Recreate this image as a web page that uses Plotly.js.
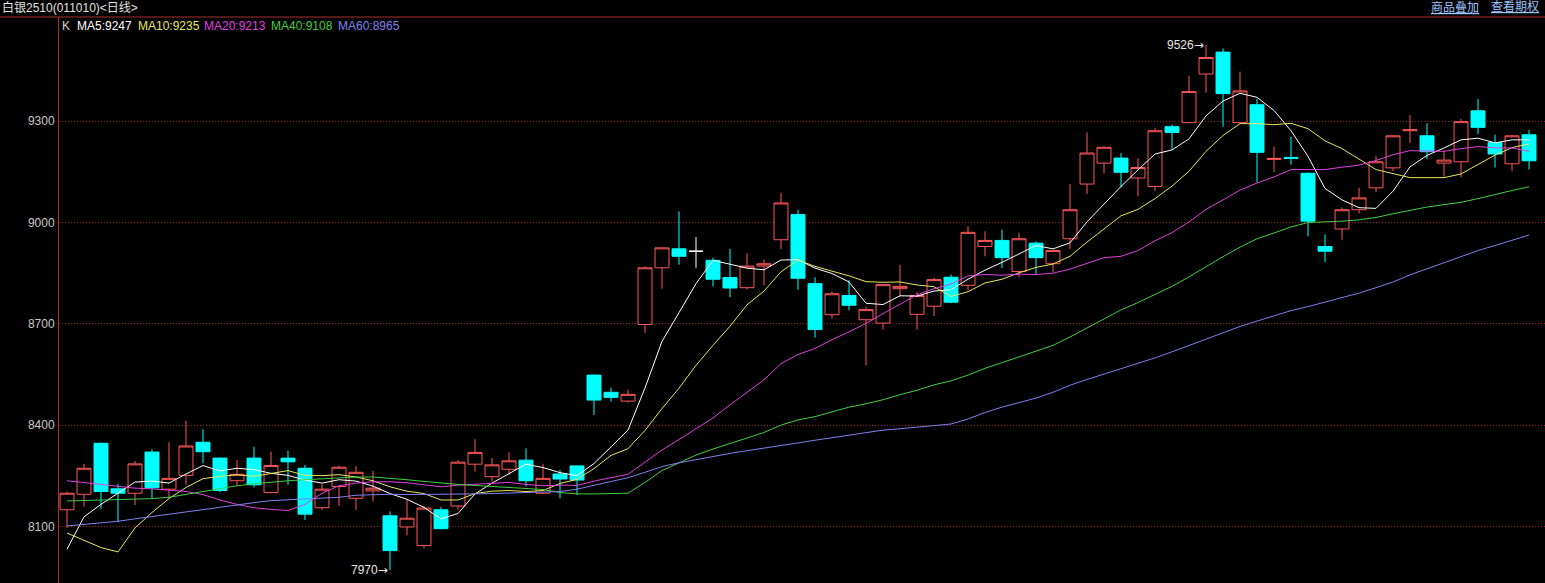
<!DOCTYPE html>
<html>
<head>
<meta charset="utf-8">
<script src="https://cdn.plot.ly/plotly-3.0.1.min.js"></script>
<style>
html,body{margin:0;padding:0;background:#000;overflow:hidden;}
#chart{width:1545px;height:583px;}
</style>
</head>
<body>
<div id="chart"></div>
<script>
// ---- data (daily candles, 87 sessions) ----
const openP  = [8149,8195,8346,8211,8198,8320,8210,8251,8349,8302,8235,8302,8200,8302,8272,8155,8218,8183,8205,8131,8098,8043,8149,8160,8284,8247,8269,8296,8198,8255,8279,8548,8497,8471,8698,8866,8922,8915,8888,8837,8807,8871,8949,9024,8819,8727,8784,8712,8702,8804,8728,8752,8838,8814,8929,8947,8855,8939,8878,8952,9114,9176,9191,9132,9107,9284,9296,9440,9505,9296,9349,9187,9193,9146,8929,8981,9038,9103,9162,9272,9257,9176,9180,9331,9237,9174,9260];
const highP  = [8203,8285,8348,8226,8294,8328,8349,8413,8388,8304,8296,8336,8321,8323,8282,8226,8280,8279,8264,8144,8178,8160,8157,8296,8358,8302,8319,8331,8285,8267,8281,8550,8511,8505,8870,8926,9033,8957,8896,8922,8909,8891,9088,9038,8838,8796,8829,8750,8818,8875,8794,8837,8846,8989,8974,8979,8970,8944,8919,9114,9267,9225,9206,9190,9280,9290,9435,9526,9516,9447,9366,9225,9254,9148,8965,9045,9103,9198,9259,9318,9294,9213,9307,9366,9260,9259,9274];
const lowP   = [8095,8158,8151,8112,8163,8183,8183,8223,8287,8201,8220,8215,8198,8223,8119,8149,8160,8149,8173,7970,8073,8035,8091,8149,8262,8232,8252,8218,8196,8183,8193,8430,8469,8467,8673,8804,8875,8866,8811,8779,8802,8814,8922,8801,8659,8715,8740,8577,8683,8781,8683,8723,8761,8799,8900,8865,8838,8845,8853,8922,9085,9146,9104,9078,9093,9215,9294,9385,9284,9294,9119,9149,9171,8959,8883,8949,9027,9090,9152,9236,9188,9136,9134,9262,9163,9152,9157];
const closeP = [8198,8272,8203,8198,8285,8214,8242,8338,8321,8206,8254,8223,8280,8291,8136,8210,8275,8260,8213,8028,8124,8154,8093,8290,8319,8282,8294,8235,8242,8240,8237,8474,8482,8491,8866,8925,8900,8915,8832,8806,8871,8878,9058,8835,8683,8789,8755,8742,8816,8811,8784,8831,8764,8971,8947,8896,8952,8896,8917,9038,9206,9223,9149,9163,9272,9267,9388,9489,9382,9390,9208,9190,9190,9004,8915,9038,9073,9180,9257,9275,9210,9185,9299,9282,9203,9257,9183];

const ma5  = [8032,8128,8165,8198,8231,8234,8228,8255,8280,8264,8272,8268,8257,8251,8237,8228,8238,8234,8219,8197,8180,8156,8122,8138,8196,8228,8256,8284,8274,8259,8250,8286,8335,8385,8510,8648,8733,8819,8888,8876,8865,8860,8889,8890,8865,8849,8824,8761,8757,8783,8782,8797,8801,8832,8859,8882,8906,8932,8922,8940,9002,9056,9107,9156,9203,9215,9248,9316,9360,9383,9371,9332,9272,9196,9101,9067,9044,9042,9093,9165,9199,9221,9245,9250,9236,9245,9245];
const ma10 = [8080,8058,8037,8024,8095,8141,8182,8215,8241,8248,8253,8248,8256,8265,8251,8250,8253,8246,8235,8217,8204,8197,8178,8178,8197,8204,8206,8203,8206,8227,8239,8271,8310,8330,8384,8449,8509,8577,8636,8693,8756,8797,8854,8889,8870,8857,8842,8825,8823,8824,8815,8810,8781,8795,8821,8832,8851,8867,8877,8900,8942,8981,9020,9039,9071,9108,9152,9211,9258,9293,9293,9290,9294,9278,9242,9219,9188,9157,9145,9133,9133,9133,9144,9171,9200,9222,9233];
const ma20 = [8235,8229,8225,8218,8213,8211,8208,8203,8194,8178,8165,8155,8150,8147,8165,8198,8220,8228,8232,8232,8229,8223,8217,8222,8224,8227,8230,8224,8220,8222,8221,8234,8244,8254,8290,8326,8357,8390,8421,8460,8497,8534,8582,8609,8627,8653,8676,8701,8730,8758,8786,8804,8818,8842,8846,8844,8847,8846,8850,8862,8878,8896,8900,8917,8946,8970,9002,9039,9067,9096,9117,9135,9157,9158,9157,9164,9170,9184,9201,9213,9213,9211,9219,9225,9221,9221,9211];
const ma40 = [8175,8176,8177,8178,8180,8182,8186,8195,8203,8212,8220,8226,8231,8235,8238,8241,8244,8246,8246,8243,8238,8233,8228,8224,8221,8218,8216,8213,8209,8200,8196,8196,8196,8198,8230,8265,8288,8311,8329,8346,8363,8378,8400,8415,8425,8440,8453,8463,8475,8490,8503,8519,8531,8548,8568,8585,8602,8618,8636,8661,8688,8715,8741,8763,8787,8811,8839,8870,8899,8927,8952,8969,8987,9000,9001,9004,9008,9015,9026,9037,9046,9053,9060,9071,9084,9095,9106];
const ma60 = [8101,8105,8109,8115,8122,8129,8137,8144,8150,8157,8163,8170,8176,8178,8180,8182,8186,8192,8194,8195,8194,8194,8195,8195,8196,8197,8198,8199,8200,8203,8210,8222,8233,8244,8260,8277,8288,8298,8308,8316,8324,8331,8340,8347,8355,8362,8370,8378,8385,8389,8393,8397,8403,8418,8437,8453,8466,8480,8497,8518,8535,8551,8566,8583,8599,8617,8636,8655,8673,8692,8708,8724,8739,8751,8764,8778,8791,8807,8824,8845,8863,8880,8900,8917,8932,8948,8963];

const yTicks = [8100, 8400, 8700, 9000, 9300];
const maNames  = ['MA5', 'MA10', 'MA20', 'MA40', 'MA60'];
const maLatest = [9247, 9235, 9213, 9108, 8965];
const titleText = '白银2510(011010)<日线>';
const linkTexts = ['商品叠加', '查看期权'];

// ---- styling ----
const maSeries = [ma5, ma10, ma20, ma40, ma60];
const maColors = ['#ffffff', '#e8e85a', '#e040e0', '#40d040', '#8080f0'];
const upColor = '#ff5858';
const downColor = '#00ffff';
const FONT = 'Liberation Sans, Arial, Noto Sans CJK SC, sans-serif';

const idx = openP.map((_, i) => i);
const normal = idx.filter(i => openP[i] !== closeP[i]);
const doji = idx.filter(i => openP[i] === closeP[i]);
const pick = (arr, ids) => ids.map(i => arr[i]);

const traces = [];
traces.push({
  type: 'candlestick',
  x: normal, open: pick(openP, normal), high: pick(highP, normal),
  low: pick(lowP, normal), close: pick(closeP, normal),
  increasing: {line: {color: upColor, width: 1}, fillcolor: '#000000'},
  decreasing: {line: {color: downColor, width: 1}, fillcolor: downColor},
  whiskerwidth: 0, hoverinfo: 'skip'
});
if (doji.length) {
  traces.push({
    type: 'candlestick',
    x: doji, open: pick(openP, doji), high: pick(highP, doji),
    low: pick(lowP, doji), close: pick(closeP, doji),
    increasing: {line: {color: '#ffffff', width: 1}, fillcolor: '#ffffff'},
    decreasing: {line: {color: '#ffffff', width: 1}, fillcolor: '#ffffff'},
    whiskerwidth: 0, hoverinfo: 'skip'
  });
}
maSeries.forEach((s, k) => {
  traces.push({
    type: 'scatter', mode: 'lines', x: idx, y: s,
    line: {color: maColors[k], width: 1}, hoverinfo: 'skip'
  });
});

// ---- annotations ----
const W = 1545, H = 583, L = 59, T = 17;
const PW = W - L, PH = H - T;
const px = v => (v - L) / PW;
const py = v => 1 - (v - T) / PH;

const ann = [];
ann.push({xref: 'paper', yref: 'paper', x: px(0), y: py(7), xanchor: 'left', yanchor: 'middle',
  text: titleText, showarrow: false, font: {family: FONT, size: 12, color: '#e0e0e0'}});
ann.push({xref: 'paper', yref: 'paper', x: px(60), y: py(26), xanchor: 'left', yanchor: 'middle',
  text: 'K', showarrow: false, font: {family: FONT, size: 12, color: '#d0d0d0'}});
const legendX = [75, 136, 202, 269, 336];
maNames.forEach((n, k) => {
  ann.push({xref: 'paper', yref: 'paper', x: px(legendX[k]), y: py(26), xanchor: 'left', yanchor: 'middle',
    text: n + ':' + maLatest[k], showarrow: false, font: {family: FONT, size: 12, color: maColors[k]}});
});
const linkX = [1429, 1489];
linkTexts.forEach((t, k) => {
  ann.push({xref: 'paper', yref: 'paper', x: px(linkX[k]), y: py(7), xanchor: 'left', yanchor: 'middle',
    text: '<u>' + t + '</u>', showarrow: false, font: {family: FONT, size: 12, color: '#9cc4ff'}});
});
// extreme labels
let hiI = 0, loI = 0;
highP.forEach((v, i) => { if (v > highP[hiI]) hiI = i; });
lowP.forEach((v, i) => { if (v < lowP[loI]) loI = i; });
const arrow = '<span style="font-family:DejaVu Sans">→</span>';
ann.push({xref: 'x', yref: 'y', x: hiI, y: highP[hiI], xanchor: 'right', yanchor: 'middle',
  text: highP[hiI] + arrow, showarrow: false, font: {family: FONT, size: 12, color: '#e6e6e6'}});
ann.push({xref: 'x', yref: 'y', x: loI, y: lowP[loI], xanchor: 'right', yanchor: 'middle',
  text: lowP[loI] + arrow, showarrow: false, font: {family: FONT, size: 12, color: '#e6e6e6'}});

const layout = {
  width: W, height: H,
  paper_bgcolor: '#000000', plot_bgcolor: '#000000',
  margin: {l: L, r: 0, t: T, b: 0, pad: 0},
  showlegend: false,
  boxgap: 0.18, boxgroupgap: 0,
  xaxis: {range: [-0.47, 86.94], visible: false, rangeslider: {visible: false}, fixedrange: true},
  yaxis: {
    range: [7932, 9609], tickmode: 'array', tickvals: yTicks, ticktext: yTicks.map(String),
    showgrid: true, gridcolor: '#9a1a1a', griddash: '1px,2px', gridwidth: 1,
    zeroline: false, showline: true, linecolor: '#a83030', linewidth: 1,
    ticks: '', ticklabelstandoff: 1,
    tickfont: {family: FONT, size: 12, color: '#c8c8c8'}, fixedrange: true
  },
  annotations: ann,
  shapes: [{type: 'line', xref: 'paper', yref: 'paper', x0: px(0), x1: 1, y0: 1, y1: 1,
    line: {color: '#a83030', width: 1}, layer: 'above'}]
};

Plotly.newPlot('chart', traces, layout, {displayModeBar: false, staticPlot: true});
</script>
</body>
</html>
